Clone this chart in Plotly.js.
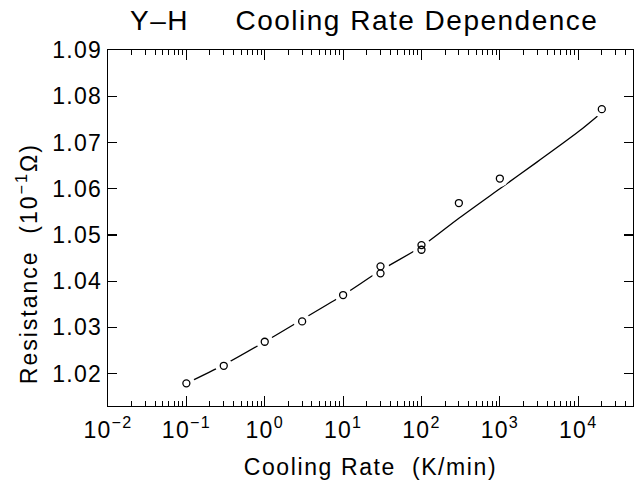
<!DOCTYPE html>
<html>
<head>
<meta charset="utf-8">
<script src="https://cdn.plot.ly/plotly-3.0.1.min.js"></script>
<style>
html,body{margin:0;padding:0;background:#fff;}
#chart{width:639px;height:485px;}
#chart .gtitle{letter-spacing:1.5px;}
#chart .xtitle{letter-spacing:1.6px;}
#chart .annotation-text{letter-spacing:2px;}
#chart .xtick text,#chart .ytick text{letter-spacing:1.3px;}
</style>
</head>
<body>
<div id="chart"></div>
<script>
// Measured points: cooling rate (K/min) and resistance (10^-1 Ohm)
const rateX = [0.1, 0.3, 1, 3, 10, 30, 30, 100, 100, 300, 1000, 20000];
const resistY = [1.0179, 1.0217, 1.0269, 1.0313, 1.0370, 1.0432, 1.0417, 1.0478, 1.0468, 1.0569, 1.0622, 1.0772];

// Fitted curve
const fitX = [0.1, 0.3, 1, 3, 10, 30, 100, 300, 1000, 3000, 10000, 20000];
const fitY = [1.0179, 1.0219, 1.0269, 1.0317, 1.0370, 1.0423, 1.0475, 1.0536, 1.0600, 1.0658, 1.0723, 1.0765];

// Axis ticks
const xTickVals = [0.01, 0.1, 1, 10, 100, 1000, 10000];
const xTickText = ['10<sup>−2</sup>', '10<sup>−1</sup>', '10<sup>0</sup>', '10<sup>1</sup>', '10<sup>2</sup>', '10<sup>3</sup>', '10<sup>4</sup>'];
const yTickVals = [1.02, 1.03, 1.04, 1.05, 1.06, 1.07, 1.08, 1.09];
const yTickText = ['1.02', '1.03', '1.04', '1.05', '1.06', '1.07', '1.08', '1.09'];

const FONT = '"Liberation Sans", Arial, Helvetica, sans-serif';

const traces = [
  {
    x: fitX, y: fitY, type: 'scatter', mode: 'lines',
    line: {color: '#000', width: 1.3, shape: 'spline', smoothing: 0.8},
    hoverinfo: 'skip', showlegend: false
  },
  {
    x: rateX, y: resistY, type: 'scatter', mode: 'markers',
    marker: {symbol: 'circle', size: 17, color: '#fff', line: {width: 0}},
    hoverinfo: 'skip', showlegend: false
  },
  {
    x: rateX, y: resistY, type: 'scatter', mode: 'markers',
    marker: {symbol: 'circle-open', size: 7, color: '#000', line: {width: 1.3, color: '#000'}},
    showlegend: false
  }
];

const layout = {
  width: 639, height: 485,
  margin: {l: 108, r: 6, t: 50, b: 79},
  paper_bgcolor: '#fff', plot_bgcolor: '#fff',
  font: {family: FONT, color: '#000', size: 22},
  title: {
    text: 'Y–H&nbsp;&nbsp;&nbsp;&nbsp;&nbsp;Cooling Rate Dependence',
    font: {family: FONT, size: 28, color: '#000'},
    x: 0.57, xanchor: 'center', y: 0.958, yanchor: 'middle'
  },
  xaxis: {
    type: 'log', range: [-2, 4.699],
    tickvals: xTickVals, ticktext: xTickText,
    ticks: 'inside', ticklen: 10, tickwidth: 1.2, tickcolor: '#000',
    minor: {ticks: 'inside', ticklen: 5, tickwidth: 1, tickcolor: '#000', dtick: 'D1', showgrid: false},
    showline: true, linecolor: '#000', linewidth: 1.3, mirror: 'ticks',
    showgrid: false, zeroline: false,
    ticklabelstandoff: 3,
    tickfont: {family: FONT, size: 23, color: '#000'},
    title: {text: 'Cooling Rate&nbsp;&nbsp;(K/min)', font: {family: FONT, size: 23, color: '#000'}, standoff: 17}
  },
  yaxis: {
    range: [1.013, 1.09],
    tickvals: yTickVals, ticktext: yTickText,
    ticks: 'inside', ticklen: 9, tickwidth: 1.2, tickcolor: '#000',
    showline: true, linecolor: '#000', linewidth: 1.3, mirror: 'ticks',
    showgrid: false, zeroline: false,
    tickfont: {family: FONT, size: 23, color: '#000'}
  },
  annotations: [{
    text: 'Resistance&nbsp;&nbsp;(10<sup>−1</sup>Ω)',
    xref: 'paper', yref: 'paper', x: -0.155, y: 0.40,
    xanchor: 'center', yanchor: 'middle', textangle: -90, showarrow: false,
    font: {family: FONT, size: 23, color: '#000'}
  }]
};

Plotly.newPlot('chart', traces, layout, {displayModeBar: false, staticPlot: true});
</script>
</body>
</html>
